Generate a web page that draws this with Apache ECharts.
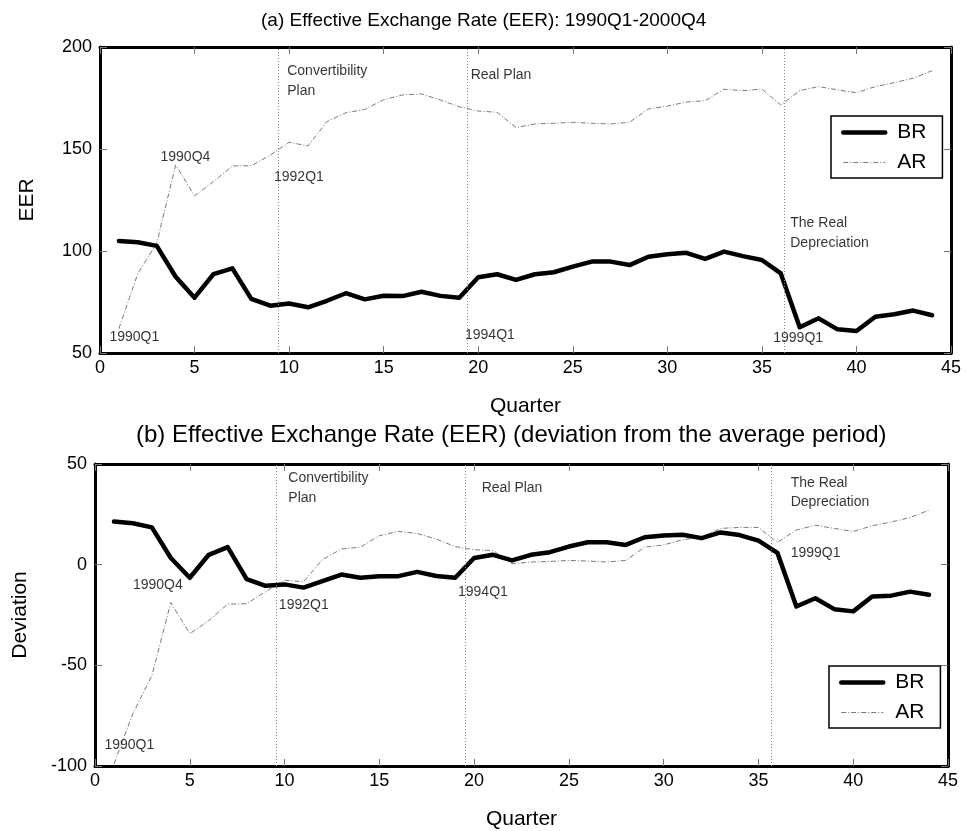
<!DOCTYPE html>
<html>
<head>
<meta charset="utf-8">
<script src="https://cdn.jsdelivr.net/npm/echarts@6/dist/echarts.min.js"></script>
<style>
  html, body { margin: 0; padding: 0; background: #fff; }
  #chart { width: 968px; height: 831px; }
</style>
</head>
<body>
<div id="chart"></div>
<script>
// Quarter index (1 = 1990Q1 ... 44 = 2000Q4)
const quarters = [1,2,3,4,5,6,7,8,9,10,11,12,13,14,15,16,17,18,19,20,21,22,
                  23,24,25,26,27,28,29,30,31,32,33,34,35,36,37,38,39,40,41,42,43,44];

// (a) Effective exchange rate levels
const brEER = [104.9,104.3,102.5,87.4,77.1,88.7,91.5,76.5,73.2,74.3,72.4,75.6,79.3,76.3,78.1,
               77.9,80.0,78.0,77.1,87.1,88.6,85.8,88.6,89.6,92.3,94.8,94.8,93.1,97.2,98.4,
               99.1,96.1,99.7,97.5,95.6,89.0,62.6,67.0,61.6,60.8,67.8,69.0,70.8,68.5];
const arEER = [62.0,89.0,103.8,142.2,127.0,134.0,141.7,141.8,147.0,153.3,151.5,163.4,167.8,169.4,174.2,
               176.5,177.0,174.0,170.7,168.6,168.0,160.5,162.3,162.6,163.1,162.6,162.3,163.1,169.6,171.0,
               173.0,173.7,179.3,178.6,179.4,171.6,178.6,180.6,179.0,177.6,180.6,182.5,184.7,188.4];

// (b) Deviation from the period average
const brDev = [21.4,20.6,18.5,3.3,-6.5,4.9,8.7,-7.2,-10.5,-9.8,-11.4,-8.2,-4.9,-6.5,-5.7,
               -5.7,-3.6,-5.6,-6.5,3.3,4.9,2.1,4.9,6.2,9.0,11.1,11.1,9.8,13.6,14.5,
               14.9,13.2,16.0,14.7,11.9,5.9,-20.8,-16.7,-22.1,-23.2,-15.8,-15.4,-13.4,-14.9];
const arDev = [-99.0,-73.9,-55.1,-18.8,-34.3,-27.8,-19.6,-19.4,-13.4,-7.7,-8.5,2.5,7.8,8.7,14.4,
               16.5,15.5,12.7,9.0,7.4,7.0,0.5,1.3,1.6,2.1,1.8,1.3,2.1,8.7,9.8,
               12.4,13.6,18.0,18.5,18.5,11.1,17.2,19.6,18.0,16.5,19.3,21.2,23.4,27.1];

// Policy events (vertical markers) for each panel
const eventsA = [9.4, 19.4, 36.2];
const eventsB = [9.55, 19.55, 35.7];

// Text notes: [quarter, value, text]
const notesA = [
  [9.9, 188, 'Convertibility'], [9.9, 178.5, 'Plan'],
  [3.2, 146, '1990Q4'], [9.2, 136.4, '1992Q1'], [0.5, 58, '1990Q1'],
  [19.6, 186.3, 'Real Plan'], [19.3, 58.8, '1994Q1'],
  [36.5, 113.6, 'The Real'], [36.5, 103.8, 'Depreciation'], [35.6, 57.5, '1999Q1']
];
const notesB = [
  [10.2, 43.1, 'Convertibility'], [10.2, 33.2, 'Plan'],
  [2.0, -10.1, '1990Q4'], [9.7, -19.9, '1992Q1'], [0.5, -89.4, '1990Q1'],
  [20.4, 38.1, 'Real Plan'], [19.15, -13.4, '1994Q1'],
  [36.7, 40.7, 'The Real'], [36.7, 31.0, 'Depreciation'], [36.7, 5.9, '1999Q1']
];

const FONT = 'Liberation Sans, Arial, sans-serif';
const pair = (xs, ys) => xs.map((x, i) => [x, ys[i]]);

const tickStyle = { inside: true, length: 7, lineStyle: { color: '#777', width: 1 } };
const frameLine = { show: true, onZero: false, lineStyle: { color: '#000', width: 3 } };

function xAxes(grid) {
  return [
    {
      gridIndex: grid, type: 'value', min: 0, max: 45, interval: 5, position: 'bottom',
      name: 'Quarter', nameLocation: 'middle', nameGap: 43,
      nameTextStyle: { fontFamily: FONT, fontSize: 21, color: '#000' },
      axisLine: frameLine, axisTick: tickStyle,
      axisLabel: { fontFamily: FONT, fontSize: 18, color: '#000', margin: 6 },
      splitLine: { show: false }
    },
    {
      gridIndex: grid, type: 'value', min: 0, max: 45, interval: 5, position: 'top',
      axisLine: frameLine, axisTick: tickStyle,
      axisLabel: { show: false }, splitLine: { show: false }
    }
  ];
}

function yAxes(grid, min, max, name, gap) {
  return [
    {
      gridIndex: grid, type: 'value', min: min, max: max, interval: 50, position: 'left',
      name: name, nameLocation: 'middle', nameGap: gap,
      nameTextStyle: { fontFamily: FONT, fontSize: 21, color: '#000' },
      axisLine: frameLine, axisTick: tickStyle,
      axisLabel: { fontFamily: FONT, fontSize: 18, color: '#000', margin: 8 },
      splitLine: { show: false }
    },
    {
      gridIndex: grid, type: 'value', min: min, max: max, interval: 50, position: 'right',
      axisLine: frameLine, axisTick: tickStyle,
      axisLabel: { show: false }, splitLine: { show: false }
    }
  ];
}

const arLine = { color: '#7a7a7a', width: 1, type: [5, 2, 1, 2] };
const brLine = { color: '#000', width: 4.5, cap: 'round', join: 'round' };

function panelSeries(axisBase, br, ar, events, notes) {
  const xi = axisBase, yi = axisBase;
  return [
    {
      name: 'AR', type: 'line', xAxisIndex: xi, yAxisIndex: yi, color: '#7a7a7a',
      data: pair(quarters, ar), symbol: 'none', silent: true, z: 3,
      lineStyle: arLine
    },
    {
      name: 'BR', type: 'line', xAxisIndex: xi, yAxisIndex: yi, color: '#000',
      data: pair(quarters, br), symbol: 'none', silent: true, z: 4,
      lineStyle: brLine,
      markLine: {
        silent: true, symbol: 'none', label: { show: false },
        lineStyle: { color: '#8a8a8a', width: 1, type: [1, 2] },
        data: events.map(v => ({ xAxis: v }))
      }
    },
    {
      name: 'notes', type: 'scatter', xAxisIndex: xi, yAxisIndex: yi,
      data: notes.map(n => ({ value: [n[0], n[1]], name: n[2] })),
      symbolSize: 0, silent: true, z: 5,
      label: {
        show: true, position: 'right', distance: 0,
        formatter: p => p.name,
        fontFamily: FONT, fontSize: 14, color: '#000'
      }
    }
  ];
}

const legendBase = {
  orient: 'vertical', selectedMode: false,
  data: [
    { name: 'BR', itemStyle: { opacity: 0 }, lineStyle: { color: '#000', width: 4.5 } },
    { name: 'AR', itemStyle: { opacity: 0 }, lineStyle: { color: '#7a7a7a', width: 1, type: [5, 2, 1, 2] } }
  ],
  itemWidth: 42, itemHeight: 16, itemGap: 9,
  borderColor: '#000', borderWidth: 1.5, borderRadius: 0,
  padding: [6, 16, 5, 10],
  textStyle: { fontFamily: FONT, fontSize: 21, color: '#000', padding: [0, 0, 0, 7] }
};

const chart = echarts.init(document.getElementById('chart'), null, { renderer: 'canvas' });
chart.setOption({
  animation: false,
  backgroundColor: '#fff',
  title: [
    { text: '(a) Effective Exchange Rate (EER): 1990Q1-2000Q4', left: 256, top: 6,
      textStyle: { fontFamily: FONT, fontSize: 19, fontWeight: 'normal', color: '#000' } },
    { text: '(b) Effective Exchange Rate (EER) (deviation from the average period)', left: 131, top: 418,
      textStyle: { fontFamily: FONT, fontSize: 24, fontWeight: 'normal', color: '#000' } }
  ],
  legend: [
    Object.assign({}, legendBase, { left: 831, top: 116 }),
    Object.assign({}, legendBase, { left: 829, top: 666 })
  ],
  grid: [
    { left: 100, top: 47, width: 851, height: 306 },
    { left: 95, top: 464, width: 853, height: 306 }
  ],
  xAxis: [...xAxes(0), ...xAxes(1)],
  yAxis: [...yAxes(0, 50, 200, 'EER', 62), ...yAxes(1, -100, 50, 'Deviation', 64)],
  series: [
    ...panelSeries(0, brEER, arEER, eventsA, notesA),
    ...panelSeries(2, brDev, arDev, eventsB, notesB)
  ]
});
</script>
</body>
</html>
